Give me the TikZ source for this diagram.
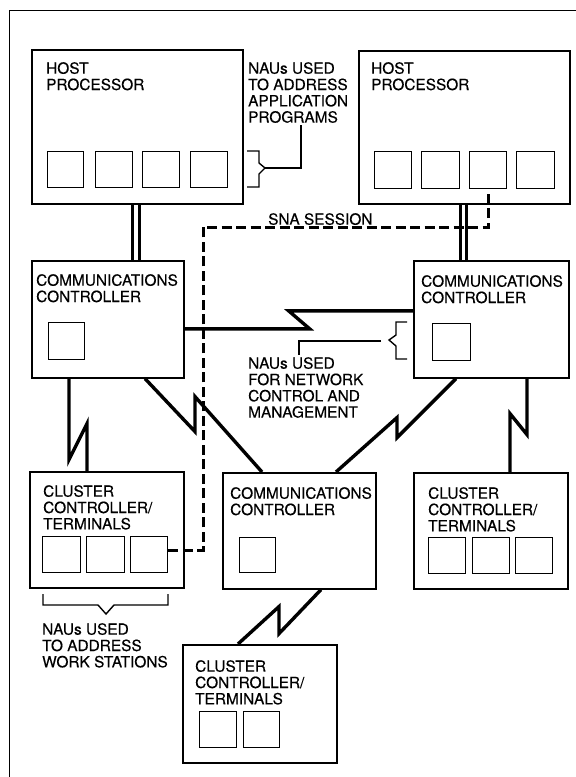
\documentclass[tikz,border=0pt]{standalone}
\usepackage{fontspec}
\setmainfont{TeX Gyre Heros}[FakeBold=0.35]
\begin{document}
\begin{tikzpicture}[x=1pt,y=-1pt,
  box/.style={draw, line width=1.6pt, anchor=north west, inner sep=0pt},
  sq/.style={draw, line width=1.3pt, anchor=north west, inner sep=0pt, minimum width=36pt, minimum height=36pt},
  txt/.style={anchor=north west, inner sep=0pt, align=left, font=\fontsize{15.4pt}{16.3pt}\selectfont},
  bolt/.style={line width=3.4pt, line join=miter},
  dbl/.style={line width=3pt},
  sess/.style={line width=3pt, dash pattern=on 10pt off 4.5pt},
  thinl/.style={line width=1.4pt}
]
\useasboundingbox (0,0) rectangle (576,777);
% frame
\draw[line width=1pt] (9,777) -- (9,10) -- (576,10);

% boxes
\node[box, minimum width=211pt, minimum height=154pt] (lh) at (31,49) {};
\node[box, minimum width=211pt, minimum height=153pt] (rh) at (358,50) {};
\node[box, minimum width=152pt, minimum height=117pt] (lcc) at (31,260) {};
\node[box, minimum width=155pt, minimum height=117pt] (rcc) at (413,260) {};
\node[box, minimum width=154pt, minimum height=116pt] (lcl) at (29,471) {};
\node[box, minimum width=153pt, minimum height=116pt] (bcc) at (222,472) {};
\node[box, minimum width=154pt, minimum height=116pt] (rcl) at (413,472) {};
\node[box, minimum width=154pt, minimum height=118pt] (bcl) at (182,644) {};

% squares
\node[sq] (lh1) at (47,151) {};
\node[sq, minimum width=37pt] (lh2) at (95,151) {};
\node[sq, minimum width=37pt] (lh3) at (142,151) {};
\node[sq, minimum width=37pt] (lh4) at (190,151) {};
\node[sq, minimum width=37pt, minimum height=37pt] (rh1) at (374,151) {};
\node[sq, minimum width=38pt, minimum height=37pt] (rh2) at (421,151) {};
\node[sq, minimum width=37pt, minimum height=37pt] (rh3) at (469,151) {};
\node[sq, minimum width=38pt, minimum height=37pt] (rh4) at (516,151) {};
\node[sq, minimum height=37pt] (lcc1) at (48,322) {};
\node[sq, minimum width=38pt, minimum height=37pt] (rcc1) at (432,323) {};
\node[sq, minimum width=38pt] (lcl1) at (42,536) {};
\node[sq, minimum width=38pt] (lcl2) at (86,536) {};
\node[sq, minimum width=37pt] (lcl3) at (130,536) {};
\node[sq, minimum height=35pt] (bcc1) at (239,537) {};
\node[sq, minimum width=37pt] (rcl1) at (428,537) {};
\node[sq, minimum width=37pt] (rcl2) at (472,537) {};
\node[sq, minimum width=37pt] (rcl3) at (515,537) {};
\node[sq, minimum width=37pt] (bcl1) at (199,711) {};
\node[sq, minimum width=36pt] (bcl2) at (243,711) {};

% texts
\node[txt] (lht) at (46,62) {HOST\\PROCESSOR};
\node[txt] (rht) at (371,62) {HOST\\PROCESSOR};
\node[txt] (napp) at (248,62) {NAUs USED\\TO ADDRESS\\APPLICATION\\PROGRAMS};
\node[txt] (sna) at (268,213) {SNA SESSION};
\node[txt] (lcct) at (36,274) {COMMUNICATIONS\\CONTROLLER};
\node[txt] (rcct) at (421,275) {COMMUNICATIONS\\CONTROLLER};
\node[txt] (nnet) at (248,357) {NAUs USED\\FOR NETWORK\\CONTROL AND\\MANAGEMENT};
\node[txt] (lclt) at (43,485) {CLUSTER\\CONTROLLER/\\TERMINALS};
\node[txt] (bcct) at (230,487) {COMMUNICATIONS\\CONTROLLER};
\node[txt] (rclt) at (428,487) {CLUSTER\\CONTROLLER/\\TERMINALS};
\node[txt] (nws) at (42,623) {NAUs USED\\TO ADDRESS\\WORK STATIONS};
\node[txt] (bclt) at (195,660) {CLUSTER\\CONTROLLER/\\TERMINALS};

% channel (double) connections host -> controller
\draw[dbl] ([xshift=101pt]lh.south west) -- ([xshift=101pt]lcc.north west);
\draw[dbl] ([xshift=108.5pt]lh.south west) -- ([xshift=108.5pt]lcc.north west);
\draw[dbl] ([xshift=102pt]rh.south west) -- ([xshift=47pt]rcc.north west);
\draw[dbl] ([xshift=108.5pt]rh.south west) -- ([xshift=53.5pt]rcc.north west);

% telecommunication links (lightning)
\draw[bolt] ([yshift=-9.5pt]lcc.east) -- ++(125,0) -- ++(-21,-18) -- ([yshift=8.5pt]rcc.west);
\draw[bolt] ([xshift=38pt]lcc.south west) -- ++(0,81) -- ++(18,-36) -- ([xshift=58pt]lcl.north west);
\draw[bolt] ([xshift=114pt]lcc.south west) -- ++(50,53) -- ++(0,-35) -- ([xshift=40pt]bcc.north west);
\draw[bolt] ([xshift=43pt]rcc.south west) -- ++(-59,59) -- ++(0,-20) -- ([xshift=114pt]bcc.north west);
\draw[bolt] ([xshift=114pt]rcc.south west) -- ++(0,56) -- ++(-17,-21) -- ([xshift=97pt]rcl.north west);
\draw[bolt] ([xshift=99pt]bcc.south west) -- ++(-42,44) -- ++(0,-27) -- ([xshift=56pt]bcl.north west);

% SNA session path
\coordinate (sesscorner) at (203,227);
\draw[sess] ([yshift=4pt]lcl3.east) -| (sesscorner) -| (rh3.south);

% braces and leaders
\coordinate (apptip) at (265,168);
\draw[thinl] (247,151) -- (259,151) -- (259,163) -- (apptip) -- (259,174) -- (259,187) -- (247,187);
\draw[thinl] (apptip) -| ([xshift=53pt,yshift=-1.5pt]napp.south west);

\coordinate (nettip) at (389,340);
\coordinate (netlead) at (381,341);
\draw[thinl] (407,322) -- (396,322) -- (396,335) -- (nettip) -- (396,346) -- (396,359) -- (407,359);
\draw[thinl] (netlead) -| ([xshift=51pt,yshift=2pt]nnet.north west);

\draw[thinl] (43,594) -- (43,605) -- (98,605) -- (106,614) -- (114,605) -- (168,605) -- (168,594);
\end{tikzpicture}
\end{document}
